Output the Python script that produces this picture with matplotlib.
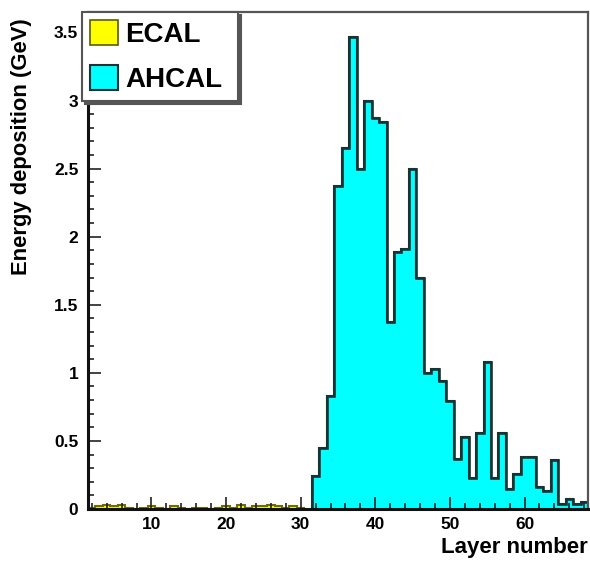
import numpy as np
import matplotlib
matplotlib.use("Agg")
import matplotlib.pyplot as plt
from matplotlib.ticker import MultipleLocator, FuncFormatter

# energy per layer (GeV)
ecal_layers = list(range(2, 31))
ecal_energy = [0.01, 0.02, 0.03, 0.02, 0.03, 0.01, 0.0, 0.01, 0.02, 0.01,
               0.0, 0.02, 0.01, 0.0, 0.01, 0.01, 0.0, 0.01, 0.02, 0.01,
               0.03, 0.01, 0.02, 0.02, 0.03, 0.02, 0.01, 0.02, 0.01]

ahcal_layers = list(range(32, 69))
ahcal_energy = [0.24, 0.45, 0.83, 2.37, 2.65, 3.47, 2.50, 3.00, 2.87, 2.84,
                1.37, 1.89, 1.91, 2.50, 1.70, 1.00, 1.03, 0.94, 0.79, 0.37,
                0.53, 0.23, 0.56, 1.08, 0.23, 0.56, 0.145, 0.26, 0.38, 0.38,
                0.16, 0.13, 0.36, 0.04, 0.07, 0.04, 0.05]

plt.rcParams["font.family"] = ["Liberation Sans", "DejaVu Sans"]
plt.rcParams["font.weight"] = "bold"

fig = plt.figure(figsize=(5.9, 5.61), dpi=100)
ax = fig.add_axes([88 / 590, 1 - 509 / 561, 500 / 590, 497 / 561])


def edges(layers):
    return np.append(np.array(layers) - 0.5, layers[-1] + 0.5)


ecal = ax.stairs(ecal_energy, edges(ecal_layers), fill=True,
                 facecolor="#ffff00", edgecolor="#5a5a10", linewidth=1.2,
                 label="ECAL")
ax.stairs(ecal_energy, edges(ecal_layers), color="#6b6b10", linewidth=1.5)
ahcal = ax.stairs(ahcal_energy, edges(ahcal_layers), fill=True,
                  facecolor="#00ffff", edgecolor="#173434", linewidth=1.5,
                  label="AHCAL")
ax.stairs(ahcal_energy, edges(ahcal_layers), color="#173434", linewidth=1.9)

ax.set_xlim(1.5, 68.5)
ax.set_ylim(0, 3.65)

ax.xaxis.set_major_locator(MultipleLocator(10))
ax.xaxis.set_minor_locator(MultipleLocator(2))
ax.yaxis.set_major_locator(MultipleLocator(0.5))
ax.yaxis.set_minor_locator(MultipleLocator(0.1))
ax.yaxis.set_major_formatter(FuncFormatter(lambda v, p: f"{v:g}"))
ax.tick_params(which="both", direction="in", top=False, right=False,
               labelsize=12.5, width=1.2, color="#222222")
ax.tick_params(which="major", length=9)
ax.tick_params(which="minor", length=4.5)
ax.tick_params(axis="x", pad=6)
ax.tick_params(axis="y", pad=7)

for side in ("left", "bottom"):
    ax.spines[side].set_linewidth(2.2)
    ax.spines[side].set_color("#111111")
for side in ("top", "right"):
    ax.spines[side].set_linewidth(1.6)
    ax.spines[side].set_color("#555555")

fig.text(588 / 590, 1 - 548 / 561, "Layer number", ha="right", va="center",
         fontsize=16, fontweight="bold")
fig.text(22 / 590, 1 - 18 / 561, "Energy deposition (GeV)", ha="center",
         va="top", rotation=90, fontsize=15.8, fontweight="bold")

leg = fig.legend(handles=[ecal, ahcal], loc="upper left",
                 bbox_to_anchor=(82 / 590, 1 - 105 / 561, 156 / 590, 93 / 561),
                 mode="expand",
                 prop={"size": 20, "weight": "bold"},
                 handlelength=1.0, handleheight=1.0, handletextpad=0.25,
                 labelspacing=0.6, borderpad=0.3, borderaxespad=0,
                 fancybox=False, edgecolor="#555555", framealpha=1,
                 shadow={"color": "#555555", "alpha": 1})
leg.get_frame().set_linewidth(1.5)

fig.savefig("out.png", dpi=100)
